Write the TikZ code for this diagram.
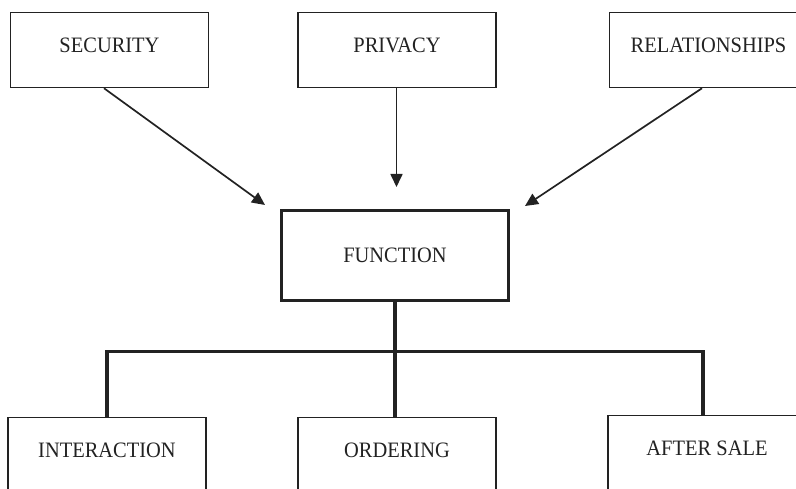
\documentclass[tikz,border=0pt]{standalone}
\usepackage{fontspec}
\setmainfont{Liberation Serif}[FakeStretch=0.93]
\usetikzlibrary{arrows.meta}
\definecolor{ink}{HTML}{222222}
\begin{document}
\begin{tikzpicture}[x=1pt,y=-1pt,
  every node/.style={font=\fontsize{22}{26}\selectfont, text=ink},
  thinbox/.style={draw=ink, line width=1.5pt, rectangle, inner sep=0pt,
    minimum width=198pt, minimum height=75pt, text depth=9pt},
  thickbox/.style={draw=ink, line width=3.3pt, rectangle, inner sep=0pt,
    minimum width=227pt, minimum height=90pt},
  arr/.style={draw=ink, line width=1.7pt, -{Triangle[length=13pt,width=12pt]}},
  bracket/.style={draw=ink, line width=3.2pt, line join=miter}]
\useasboundingbox (0,0) rectangle (796,489);
\clip (0,0) rectangle (796,489);
% top boxes
\node[thinbox] (sec) at (109.5,50) {SECURITY};
\node[thinbox] (pri) at (397,50) {PRIVACY};
\node[thinbox] (rel) at (708.5,50) {RELATIONSHIPS};
% central box
\node[thickbox] (fun) at (395,255.5) {FUNCTION};
% bottom boxes
\node[thinbox] (int) at (107,455) {INTERACTION};
\node[thinbox] (ord) at (397,455) {ORDERING};
\node[thinbox] (aft) at (707,453) {AFTER SALE};
% arrow tips
\coordinate (t1) at (265,205);
\coordinate (t2) at (396.5,187);
\coordinate (t3) at (525,206);
\draw[arr] ([xshift=-5.5pt]sec.south) -- (t1);
\draw[arr] ([xshift=-0.5pt]pri.south) -- (t2);
\draw[arr] ([xshift=-6.5pt]rel.south) -- (t3);
% bracket
\coordinate (bar) at (395,351.5);
\draw[bracket] (fun.south) -- (fun.south |- ord.north);
\draw[bracket] (int.north) -- (int.north |- bar) -- ([xshift=-4pt]aft.north |- bar) -- ([xshift=-4pt]aft.north);
\end{tikzpicture}
\end{document}
